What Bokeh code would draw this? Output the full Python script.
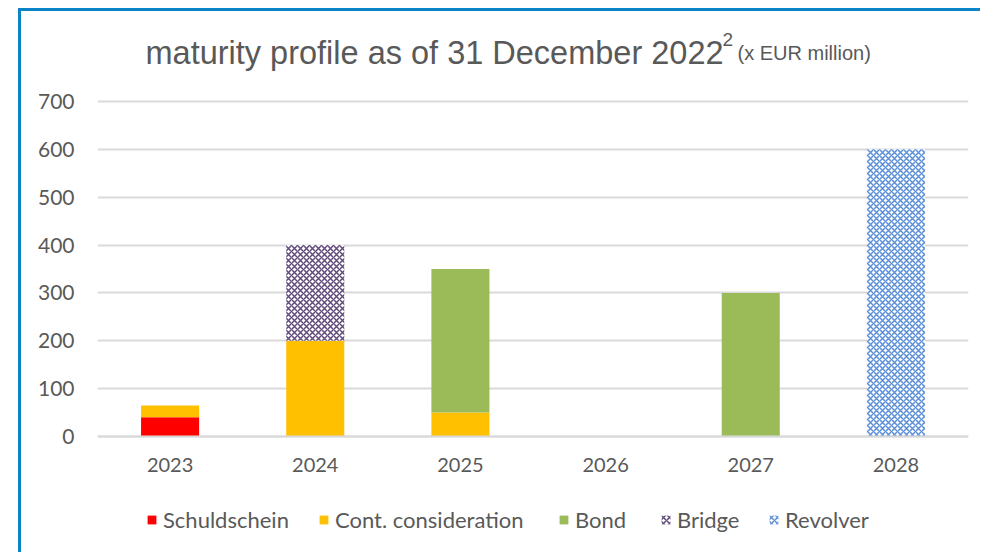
from bokeh.plotting import figure
from bokeh.models import Range1d, Label, Legend, LegendItem, FactorRange
from bokeh.embed import file_html
from bokeh.resources import INLINE

years = ["2023", "2024", "2025", "2026", "2027", "2028"]
schuldschein = [40, 0, 0, 0, 0, 0]
cont_consideration = [25, 200, 50, 0, 0, 0]
bond = [0, 0, 300, 0, 300, 0]
bridge = [0, 200, 0, 0, 0, 0]
revolver = [0, 0, 0, 0, 0, 600]
series = ["Schuldschein", "Cont. consideration", "Bond", "Bridge", "Revolver"]
y_ticks = [0, 100, 200, 300, 400, 500, 600, 700]

data = dict(year=years, Schuldschein=schuldschein,
            **{"Cont. consideration": cont_consideration},
            Bond=bond, Bridge=bridge, Revolver=revolver)

GREY = "#595959"
BLUE = "#0A84C6"

# frame spans the full canvas height; extra room above/below holds title and legend
PX_PER_UNIT = 335 / 700
y_top = 700 + 90 / PX_PER_UNIT
y_bottom = -119 / PX_PER_UNIT

p = figure(width=962, height=544, x_range=FactorRange(*years), y_range=Range1d(y_bottom, y_top),
           output_backend="svg", toolbar_location=None,
           min_border_left=76, min_border_right=15, min_border_top=0, min_border_bottom=0)
p.title.visible = False
p.styles = {"margin-left": "18px", "margin-top": "8px",
            "border-top": f"3px solid {BLUE}", "border-left": f"3px solid {BLUE}"}
p.outline_line_color = None
p.background_fill_color = "white"
p.border_fill_color = "white"

rs = p.vbar_stack(series, x="year", width=0.4, source=data,
                  fill_color=["#FF0000", "#FFC000", "#9BBB59", "white", "white"],
                  hatch_pattern=[None, None, None, "diagonal_cross", "diagonal_cross"],
                  hatch_color=["#FF0000", "#FFC000", "#9BBB59", "#604A7B", "#5B8FD8"],
                  hatch_scale=6, hatch_weight=1.5,
                  line_color=None)

p.xaxis.fixed_location = 0
p.xaxis.axis_line_color = "#D9D9D9"
p.xaxis.axis_line_width = 2
p.xaxis.major_tick_line_color = None
p.xaxis.minor_tick_line_color = None
p.xaxis.major_label_text_font = "Lato"
p.xaxis.major_label_text_font_size = "20px"
p.xaxis.major_label_text_color = GREY
p.xaxis.major_label_standoff = 15

p.yaxis.ticker = y_ticks
p.yaxis.axis_line_color = None
p.yaxis.major_tick_line_color = None
p.yaxis.minor_tick_line_color = None
p.yaxis.major_label_text_font = "Lato"
p.yaxis.major_label_text_font_size = "21px"
p.yaxis.major_label_text_color = GREY
p.yaxis.major_label_standoff = 17

p.xgrid.grid_line_color = None
p.ygrid.ticker = y_ticks
p.ygrid.grid_line_color = "#D9D9D9"
p.ygrid.grid_line_width = 2

# title (screen units from frame bottom-left)
p.add_layout(Label(x=48, y=503, x_units="screen", y_units="screen",
                   text="maturity profile as of 31 December 2022", text_font="Liberation Sans",
                   text_font_size="32.5px", text_color=GREY, text_baseline="alphabetic"))
p.add_layout(Label(x=625, y=516, x_units="screen", y_units="screen",
                   text="2", text_font="Liberation Sans",
                   text_font_size="19px", text_color=GREY, text_baseline="alphabetic"))
p.add_layout(Label(x=640, y=503, x_units="screen", y_units="screen",
                   text="(x EUR million)", text_font="Liberation Sans",
                   text_font_size="20px", text_color=GREY, text_baseline="alphabetic"))

# legend: one per item for precise placement
leg_x = [49, 221, 461, 563, 671]
for name, r, lx in zip(series, rs, leg_x):
    lg = Legend(items=[LegendItem(label=name, renderers=[r])], location=(lx, 22),
                orientation="horizontal", padding=0, margin=0, border_line_color=None,
                background_fill_alpha=0, glyph_width=11, glyph_height=11, label_standoff=6,
                label_text_font="Lato", label_text_font_size="22px", label_text_color=GREY)
    p.add_layout(lg, "center")

open("out.html", "w").write(file_html(p, INLINE))
